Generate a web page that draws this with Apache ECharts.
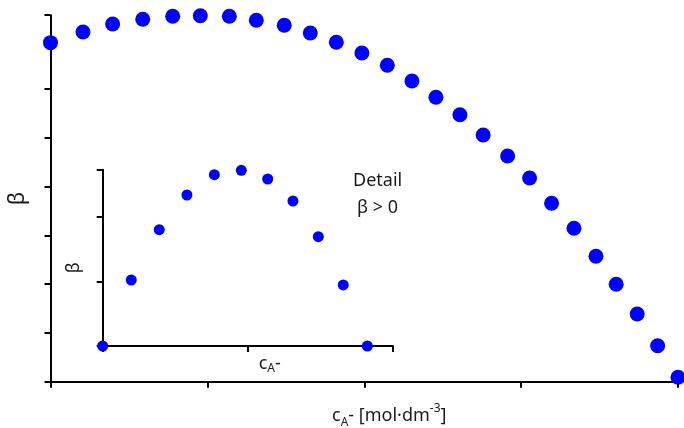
<!DOCTYPE html>
<html><head><meta charset="utf-8">
<script src="https://cdn.jsdelivr.net/npm/echarts@6/dist/echarts.min.js"></script>
<style>html,body{margin:0;padding:0;background:#fff}#c{width:684px;height:428px}</style>
</head><body><div id="c"></div>
<script>
// Main series: concentration (x) and beta (y)
const mainX = [0.0, 0.207, 0.396, 0.588, 0.779, 0.955, 1.140, 1.312, 1.490, 1.656, 1.822, 1.985, 2.147, 2.304, 2.457, 2.610, 2.758, 2.914, 3.054, 3.194, 3.337, 3.477, 3.606, 3.740, 3.870, 4.0];
const mainY = [6.947, 7.166, 7.330, 7.426, 7.488, 7.500, 7.488, 7.406, 7.303, 7.146, 6.955, 6.736, 6.484, 6.162, 5.828, 5.471, 5.055, 4.625, 4.174, 3.656, 3.143, 2.570, 1.996, 1.387, 0.738, 0.090];
// Inset (detail, beta > 0)
const insetX = [0.0, 0.197, 0.390, 0.581, 0.770, 0.956, 1.138, 1.312, 1.487, 1.659, 1.825];
const insetY = [0.0, 1.023, 1.803, 2.341, 2.656, 2.724, 2.589, 2.248, 1.695, 0.946, 0.0];
const insetNote = ['Detail', 'β > 0'];

const FONT = '"Noto Sans", sans-serif';
const TXT = '#1a1a1a';
const axisLine = {show: true, onZero: false, lineStyle: {color: '#000', width: 2}};
const tick = (len) => ({show: true, inside: false, length: len, lineStyle: {color: '#000', width: 2}});

const chart = echarts.init(document.getElementById('c'), null, {renderer: 'canvas'});
chart.setOption({
  animation: false,
  backgroundColor: '#fff',
  textStyle: {fontFamily: FONT},
  grid: [
    {left: 50.5, right: 6, top: 15.2, bottom: 46.3, containLabel: false, outerBoundsMode: 'none'},
    {left: 102.7, right: 291.3, top: 169.7, bottom: 82, containLabel: false, outerBoundsMode: 'none'}
  ],
  xAxis: [
    {gridIndex: 0, type: 'value', min: 0, max: 4, interval: 1,
     axisLine: axisLine, axisTick: tick(6), axisLabel: {show: false}, splitLine: {show: false},
     name: '{n|c}{s|A}{n|- [mol·dm}{p|-3}{n|]}', nameLocation: 'middle', nameGap: 21,
     nameTextStyle: {padding: [0, 0, 0, 50], rich: {
       n: {fontSize: 18, color: TXT, fontFamily: FONT, lineHeight: 26, verticalAlign: 'middle'},
       s: {fontSize: 12, color: TXT, fontFamily: FONT, verticalAlign: 'bottom', lineHeight: 14},
       p: {fontSize: 12, color: TXT, fontFamily: FONT, verticalAlign: 'top', lineHeight: 14}
     }}},
    {gridIndex: 1, type: 'value', min: 0, max: 2, interval: 1,
     axisLine: axisLine, axisTick: tick(6), axisLabel: {show: false}, splitLine: {show: false},
     name: '{n|c}{s|A}{n|-}', nameLocation: 'middle', nameGap: 7,
     nameTextStyle: {padding: [0, 0, 0, 44], rich: {
       n: {fontSize: 18, color: TXT, fontFamily: FONT, lineHeight: 22, verticalAlign: 'middle'},
       s: {fontSize: 12, color: TXT, fontFamily: FONT, verticalAlign: 'bottom', lineHeight: 13}
     }}}
  ],
  yAxis: [
    {gridIndex: 0, type: 'value', min: 0, max: 7.51, interval: 1,
     axisLine: axisLine, axisTick: tick(6), axisLabel: {show: false}, splitLine: {show: false},
     name: 'β', nameLocation: 'middle', nameGap: 22, nameRotate: 90,
     nameTextStyle: {fontSize: 22, color: TXT, fontFamily: FONT}},
    {gridIndex: 1, type: 'value', min: 0, max: 2.733, interval: 1,
     axisLine: axisLine, axisTick: tick(6), axisLabel: {show: false}, splitLine: {show: false},
     name: 'β', nameLocation: 'middle', nameGap: 20, nameRotate: 90,
     nameTextStyle: {fontSize: 18, color: TXT, fontFamily: FONT, padding: [0, 20, 0, 0]}}
  ],
  series: [
    {type: 'scatter', xAxisIndex: 0, yAxisIndex: 0, clip: false, symbol: 'circle', symbolSize: 15,
     itemStyle: {color: '#0000ff', opacity: 1},
     data: mainX.map((x, i) => [x, mainY[i]])},
    {type: 'scatter', xAxisIndex: 1, yAxisIndex: 1, clip: false, symbol: 'circle', symbolSize: 11,
     itemStyle: {color: '#0000ff', opacity: 1},
     data: insetX.map((x, i) => [x, insetY[i]])}
  ],
  graphic: [
    {type: 'text', left: 353, top: 167, style: {text: insetNote[0] + '\n' + insetNote[1], fill: TXT,
      font: '18px ' + FONT, lineHeight: 27, align: 'center', x: 25, textAlign: 'center'}}
  ]
});
</script></body></html>
